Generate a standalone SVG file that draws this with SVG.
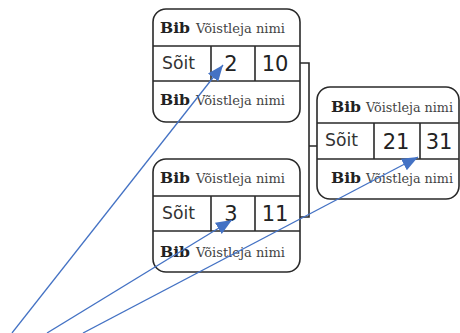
<svg xmlns="http://www.w3.org/2000/svg" width="460" height="333" viewBox="0 0 460 333">
<style>
.box{fill:#fff;stroke:#2a2a2a;stroke-width:1.6}
.dv{stroke:#2a2a2a;stroke-width:1.6;fill:none}
.bib{font-family:"DejaVu Serif","Liberation Serif",serif;font-weight:bold;font-size:15px;fill:#222}
.nm{font-family:"DejaVu Serif","Liberation Serif",serif;font-size:12px;fill:#444}
.soit{font-family:"DejaVu Sans",sans-serif;font-size:17px;fill:#333}
.num{font-family:"DejaVu Sans",sans-serif;font-size:21px;fill:#222;text-anchor:middle}
.con{stroke:#2a2a2a;stroke-width:1.6;fill:none}
.arr{stroke:#4472C4;stroke-width:1.3;fill:none;marker-end:url(#ah)}
</style>
<defs>
<marker id="ah" markerUnits="userSpaceOnUse" markerWidth="17" markerHeight="14" refX="16" refY="6.5" orient="auto">
<path d="M0,0 L16,6.5 L0,13 Z" fill="#4472C4"/>
</marker>
</defs>
<g id="connectors">
<path class="con" d="M300,63 H309 V217 H300 M309,146 H317"/>
</g>
<g id="node1">
<rect class="box" x="153" y="9" width="147" height="113" rx="13"/>
<path class="dv" d="M153,46 H300 M153,81 H300 M211,46 V81 M255,46 V81"/>
<text class="bib" x="160" y="33" textLength="30" lengthAdjust="spacingAndGlyphs">Bib</text><text class="nm" x="196" y="33" textLength="89" lengthAdjust="spacingAndGlyphs">Võistleja nimi</text>
<text class="soit" x="162" y="69" textLength="33" lengthAdjust="spacingAndGlyphs">Sõit</text>
<text class="num" x="231" y="71">2</text><text class="num" x="275" y="71">10</text>
<text class="bib" x="160" y="105" textLength="30" lengthAdjust="spacingAndGlyphs">Bib</text><text class="nm" x="196" y="105" textLength="89" lengthAdjust="spacingAndGlyphs">Võistleja nimi</text>
</g>
<g id="node2">
<rect class="box" x="153" y="159" width="147" height="113" rx="13"/>
<path class="dv" d="M153,196 H300 M153,231 H300 M211,196 V231 M255,196 V231"/>
<text class="bib" x="160" y="183" textLength="30" lengthAdjust="spacingAndGlyphs">Bib</text><text class="nm" x="196" y="183" textLength="89" lengthAdjust="spacingAndGlyphs">Võistleja nimi</text>
<text class="soit" x="162" y="219" textLength="33" lengthAdjust="spacingAndGlyphs">Sõit</text>
<text class="num" x="231" y="221">3</text><text class="num" x="275" y="221">11</text>
<text class="bib" x="160" y="257" textLength="30" lengthAdjust="spacingAndGlyphs">Bib</text><text class="nm" x="196" y="257" textLength="89" lengthAdjust="spacingAndGlyphs">Võistleja nimi</text>
</g>
<g id="node3">
<rect class="box" x="317" y="87" width="142" height="112" rx="13"/>
<path class="dv" d="M317,123 H459 M317,159 H459 M374,123 V159 M420,123 V159"/>
<text class="bib" x="331" y="112" textLength="30" lengthAdjust="spacingAndGlyphs">Bib</text><text class="nm" x="366" y="112" textLength="87" lengthAdjust="spacingAndGlyphs">Võistleja nimi</text>
<text class="soit" x="325" y="146" textLength="33" lengthAdjust="spacingAndGlyphs">Sõit</text>
<text class="num" x="396" y="149">21</text><text class="num" x="439" y="149">31</text>
<text class="bib" x="331" y="183" textLength="30" lengthAdjust="spacingAndGlyphs">Bib</text><text class="nm" x="366" y="183" textLength="87" lengthAdjust="spacingAndGlyphs">Võistleja nimi</text>
</g>
<g id="arrows">
<line class="arr" x1="12" y1="333" x2="223" y2="65"/>
<line class="arr" x1="47" y1="333" x2="232" y2="220"/>
<line class="arr" x1="83" y1="333" x2="418" y2="157"/>
</g>
</svg>
